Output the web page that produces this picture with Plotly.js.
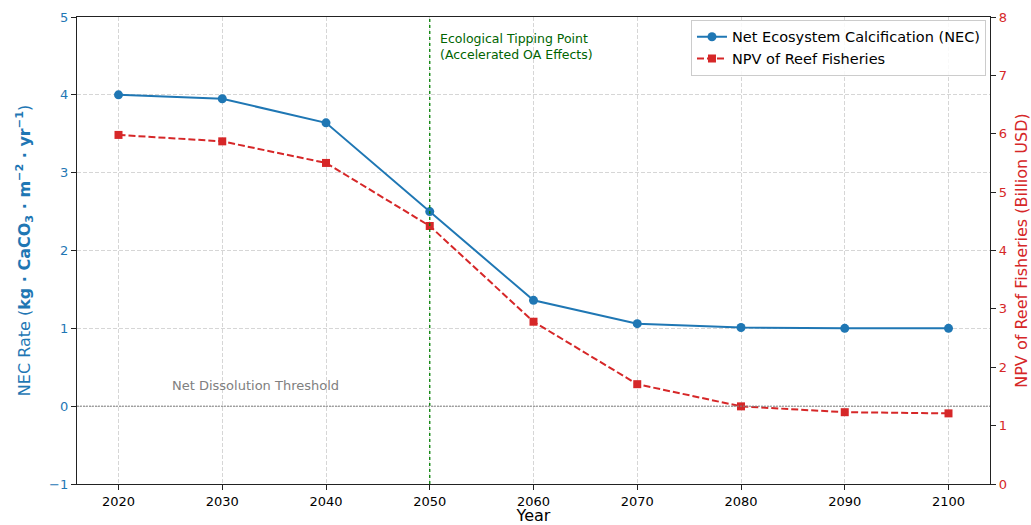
<!DOCTYPE html>
<html><head><meta charset="utf-8">
<script src="https://cdn.plot.ly/plotly-3.0.1.min.js"></script>
<style>body{margin:0;background:#fff}#c{width:1031px;height:525px}</style>
</head><body><div id="c"></div>
<script>
const years = [2020, 2030, 2040, 2050, 2060, 2070, 2080, 2090, 2100];
const necValues = [4.0, 3.95, 3.64, 2.5, 1.36, 1.06, 1.01, 1.0, 1.0];
const npvValues = [5.98, 5.87, 5.5, 4.42, 2.78, 1.71, 1.33, 1.23, 1.21];
const yearTicks = [2020, 2030, 2040, 2050, 2060, 2070, 2080, 2090, 2100];
const leftTicks = [-1, 0, 1, 2, 3, 4, 5];
const rightTicks = [0, 1, 2, 3, 4, 5, 6, 7, 8];
const tippingYear = 2050;
const thresholdValue = 0;

const blue = '#1f77b4', red = '#d62728';
const font = 'DejaVu Sans, sans-serif';

const traces = [
  {x: years, y: necValues, name: 'Net Ecosystem Calcification (NEC)', type: 'scatter', mode: 'lines+markers',
   line: {color: blue, width: 2}, marker: {color: blue, size: 9, symbol: 'circle'}, yaxis: 'y'},
  {x: years, y: npvValues, name: 'NPV of Reef Fisheries', type: 'scatter', mode: 'lines+markers',
   line: {color: red, width: 2, dash: '7px,3px'}, marker: {color: red, size: 8, symbol: 'square'}, yaxis: 'y2'}
];

const layout = {
  width: 1031, height: 525,
  margin: {l: 77, r: 41, t: 17, b: 41},
  paper_bgcolor: '#fff', plot_bgcolor: '#fff',
  font: {family: font, size: 13, color: '#000'},
  showlegend: true,
  legend: {x: 0.9956, y: 0.994, xanchor: 'right', yanchor: 'top', bgcolor: 'rgba(255,255,255,0.85)',
    bordercolor: '#cccccc', borderwidth: 1, font: {family: font, size: 14.5, color: '#000'}, tracegroupgap: 0},
  xaxis: {range: [2016, 2104], tickvals: yearTicks, ticktext: yearTicks.map(String), showgrid: true,
    gridcolor: '#d6d6d6', griddash: '4px,2px', gridwidth: 1, zeroline: false, showline: true, linecolor: '#222', linewidth: 1.2,
    mirror: true, ticks: 'outside', ticklen: 5, tickcolor: '#222', tickfont: {size: 13, color: '#000'},
    title: {text: 'Year', font: {size: 16, color: '#000'}, standoff: 9}},
  yaxis: {range: [-1, 5], tickvals: leftTicks, showgrid: true, gridcolor: '#d6d6d6', griddash: '4px,2px', gridwidth: 1,
    zeroline: false, showline: true, linecolor: '#222', linewidth: 1.2, ticks: 'outside', ticklen: 5, tickcolor: '#222',
    tickfont: {size: 13, color: blue}, tickformat: '~g',
    title: {text: 'NEC Rate (<b>kg · CaCO<sub>3</sub> · m<sup>−2</sup> · yr<sup>−1</sup></b>)', font: {size: 16, color: blue}, standoff: 14}},
  yaxis2: {range: [0, 8], tickvals: rightTicks, overlaying: 'y', side: 'right', showgrid: false, zeroline: false,
    showline: true, linecolor: '#222', linewidth: 1.2, ticks: 'outside', ticklen: 5, tickcolor: '#222',
    tickfont: {size: 13, color: red},
    title: {text: 'NPV of Reef Fisheries (Billion USD)', font: {size: 16, color: red}, standoff: 10}},
  shapes: [
    {type: 'line', xref: 'x', yref: 'paper', x0: tippingYear, x1: tippingYear, y0: 0, y1: 1,
     line: {color: 'green', width: 1.3, dash: 'dot'}},
    {type: 'line', xref: 'paper', yref: 'y', x0: 0, x1: 1, y0: thresholdValue, y1: thresholdValue,
     line: {color: 'grey', width: 1, dash: '2px,1px'}}
  ],
  annotations: [
    {x: tippingYear + 0.8, y: 0.975, xref: 'x', yref: 'paper', xanchor: 'left', yanchor: 'top', align: 'left',
     text: 'Ecological Tipping Point<br>(Accelerated OA Effects)', showarrow: false,
     font: {family: font, size: 12.5, color: 'darkgreen'}},
    {x: 2025, y: thresholdValue + 0.14, xref: 'x', yref: 'y', xanchor: 'left', yanchor: 'bottom',
     text: 'Net Dissolution Threshold', showarrow: false, font: {family: font, size: 13, color: 'grey'}}
  ]
};

Plotly.newPlot('c', traces, layout, {displayModeBar: false, staticPlot: true});
</script></body></html>
